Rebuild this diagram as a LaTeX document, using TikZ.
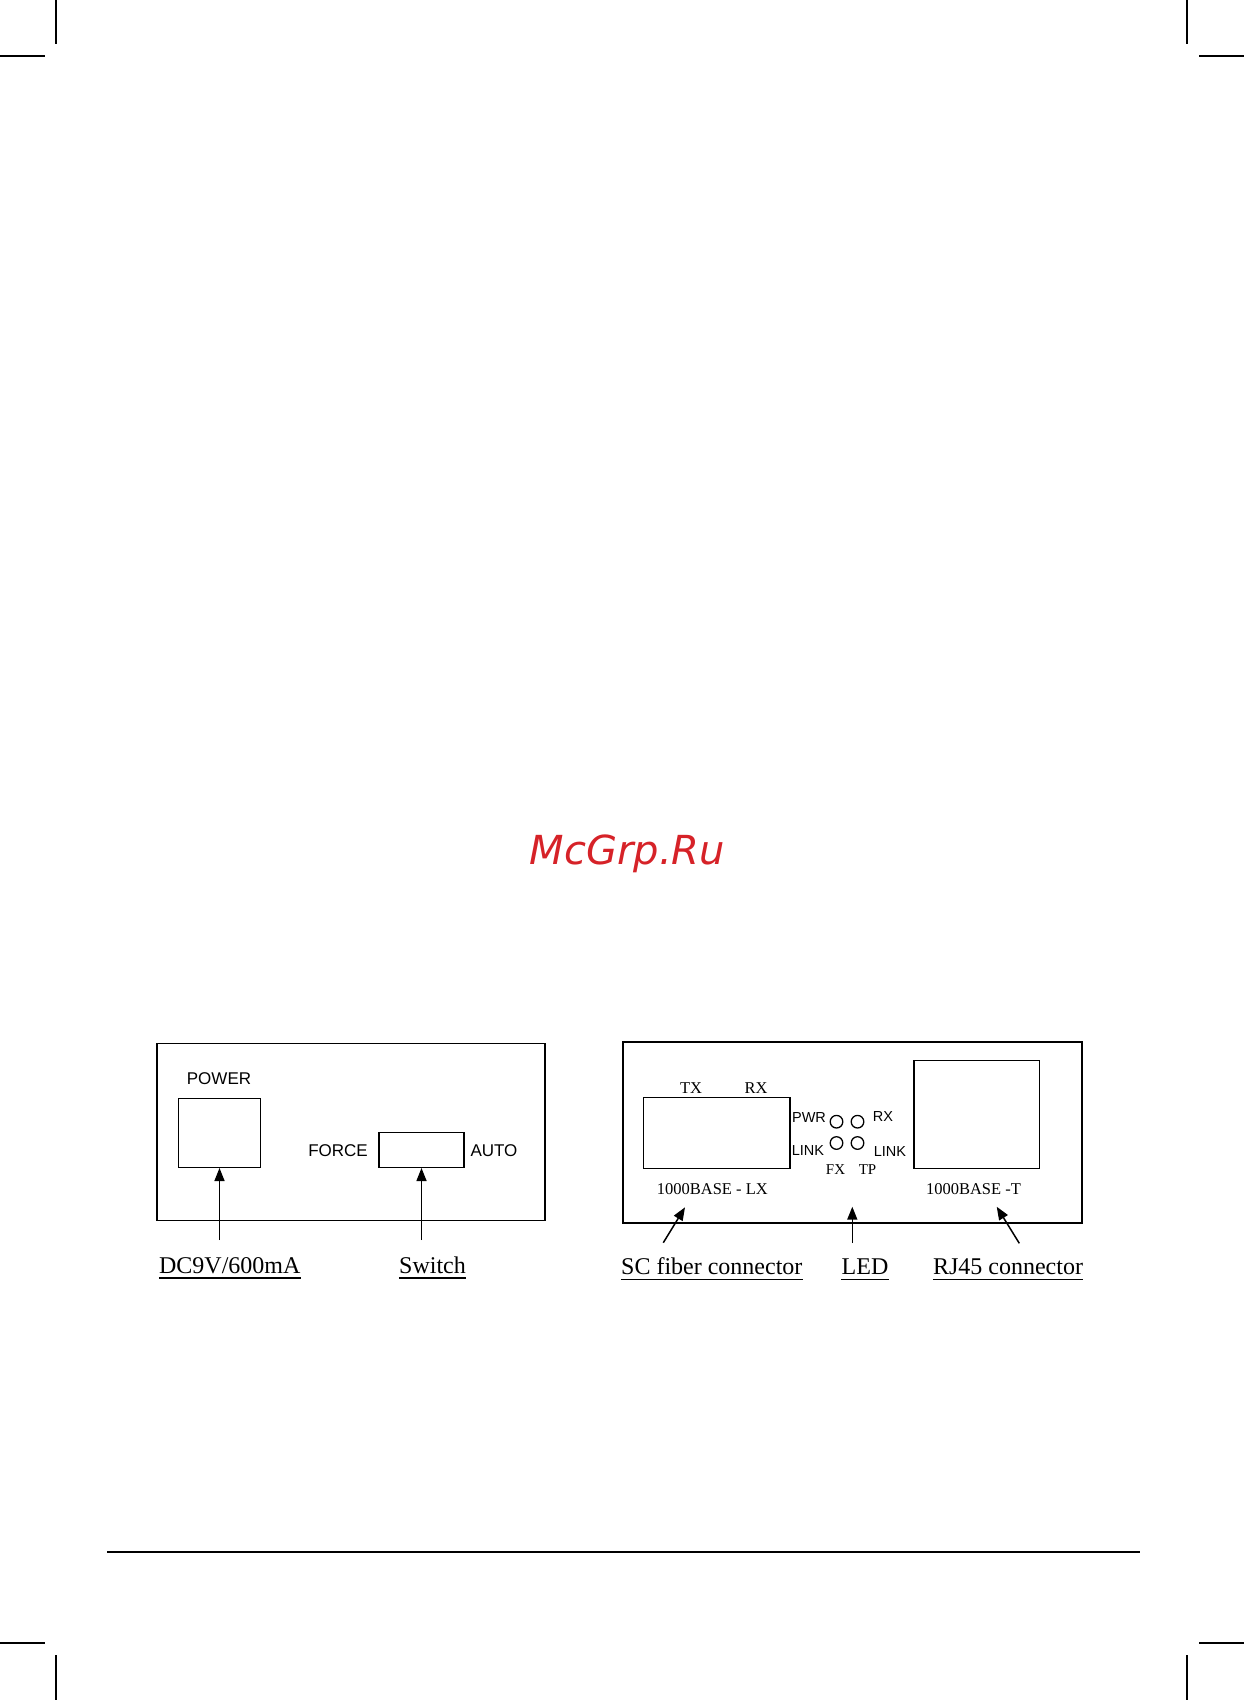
\documentclass[tikz,border=0pt]{standalone}
\usepackage{fontspec}
\setmainfont{Liberation Serif}
\setsansfont{Liberation Sans}
\newfontfamily\wmfont{DejaVu Sans}
\usetikzlibrary{arrows.meta}
\definecolor{wmred}{RGB}{214,34,40}
\begin{document}
\begin{tikzpicture}[x=1pt,y=-1pt,
  trim/.style={line width=1.4pt},
  frame/.style={draw, line width=1.6pt, inner sep=0pt},
  part/.style={draw, line width=1.4pt, inner sep=0pt},
  led/.style={draw, circle, line width=1.3pt, inner sep=0pt, minimum size=12.6pt},
  sanslbl/.style={font=\sffamily\fontsize{17}{20}\selectfont, inner sep=0pt},
  ledlbl/.style={font=\sffamily\fontsize{14.5}{17}\selectfont, inner sep=0pt},
  small/.style={font=\fontsize{16.5}{19}\selectfont, inner sep=0pt},
  callout/.style={font=\fontsize{24}{28}\selectfont, inner sep=0pt, anchor=base},
  uline/.style={line width=1.3pt},
  arr/.style={line width=1.5pt, -{Triangle[length=13pt,width=10pt]}}]
\useasboundingbox (0,0) rectangle (1244,1700);
% crop marks
\draw[trim] (56,0) -- (56,44);
\draw[trim] (0,56) -- (45,56);
\draw[trim] (1187,0) -- (1187,44);
\draw[trim] (1199,56) -- (1244,56);
\draw[trim] (0,1643) -- (45,1643);
\draw[trim] (56,1655) -- (56,1700);
\draw[trim] (1199,1643) -- (1244,1643);
\draw[trim] (1187,1655) -- (1187,1700);
% bottom rule
\draw[line width=2pt] (107,1552) -- (1140,1552);
% watermark
\node[anchor=base, inner sep=0pt, text=wmred, font=\wmfont\itshape\fontsize{40}{48}\selectfont] (wm) at (627.5,864) {McGrp.Ru};

% ---------- left panel ----------
\node[frame, minimum width=388pt, minimum height=177pt] (lpanel) at (350.9,1132) {};
\node[part, minimum width=82pt, minimum height=69pt] (pwrbox) at (219.5,1132.8) {};
\node[part, minimum width=85pt, minimum height=35pt] (swbox) at (421.5,1149.8) {};
\node[sanslbl] (powerlbl) at (219,1079) {POWER};
\node[sanslbl] (forcelbl) at (338,1150.7) {FORCE};
\node[sanslbl] (autolbl) at (494,1150.7) {AUTO};
\node[callout] (dclbl) at (229.8,1273) {DC9V/600mA};
\node[callout] (swlbl) at (432.5,1273) {Switch};
\draw[uline] ([yshift=-5pt]dclbl.base west) -- ([yshift=-5pt]dclbl.base east);
\draw[uline] ([yshift=-5pt]swlbl.base west) -- ([yshift=-5pt]swlbl.base east);
\coordinate (dcstart) at (219.5,1240);
\coordinate (swstart) at (421.5,1240);
\draw[arr] (dcstart) -- (pwrbox.south);
\draw[arr] (swstart) -- (swbox.south);

% ---------- right panel ----------
\node[frame, minimum width=459pt, minimum height=181pt] (rpanel) at (852.2,1132.2) {};
\node[part, minimum width=146.7pt, minimum height=71pt] (scbox) at (716.65,1132.8) {};
\node[part, minimum width=125.3pt, minimum height=107.6pt] (rjbox) at (976.65,1114.5) {};
\node[small] (txlbl) at (691,1088) {TX};
\node[small] (rxlbl) at (756,1088) {RX};
\node[small] (lxlbl) at (712.3,1189.3) {1000BASE - LX};
\node[small] (tlbl) at (973.5,1189) {1000BASE -T};
\node[led] (led1) at (836.5,1121.7) {};
\node[led] (led2) at (857.5,1121.7) {};
\node[led] (led3) at (836.5,1143) {};
\node[led] (led4) at (857.5,1143) {};
\node[ledlbl] (pwrlbl) at (809,1117) {PWR};
\node[ledlbl] (rxled) at (883,1116) {RX};
\node[ledlbl] (linkl) at (808,1150) {LINK};
\node[ledlbl] (linkr) at (890,1151) {LINK};
\node[small, font=\fontsize{15}{18}\selectfont] (fxlbl) at (835.5,1170) {FX};
\node[small, font=\fontsize{15}{18}\selectfont] (tplbl) at (867.5,1170) {TP};
\node[callout] (sclbl) at (711.8,1274.3) {SC fiber connector};
\node[callout] (ledlbl) at (865,1274.3) {LED};
\node[callout] (rjlbl) at (1008,1274.3) {RJ45 connector};
\draw[uline] ([yshift=-5.5pt]sclbl.base west) -- ([yshift=-5.5pt]sclbl.base east);
\draw[uline] ([yshift=-5.5pt]ledlbl.base west) -- ([yshift=-5.5pt]ledlbl.base east);
\draw[uline] ([yshift=-5.5pt]rjlbl.base west) -- ([yshift=-5.5pt]rjlbl.base east);
\coordinate (scstart) at (663.3,1242.7);
\coordinate (sctip) at (685,1207.3);
\coordinate (ledstart) at (852.3,1243);
\coordinate (ledtip) at (852.3,1206.7);
\coordinate (rjstart) at (1019.3,1243.3);
\coordinate (rjtip) at (996.7,1206.7);
\draw[arr] (scstart) -- (sctip);
\draw[arr] (ledstart) -- (ledtip);
\draw[arr] (rjstart) -- (rjtip);
\end{tikzpicture}
\end{document}
